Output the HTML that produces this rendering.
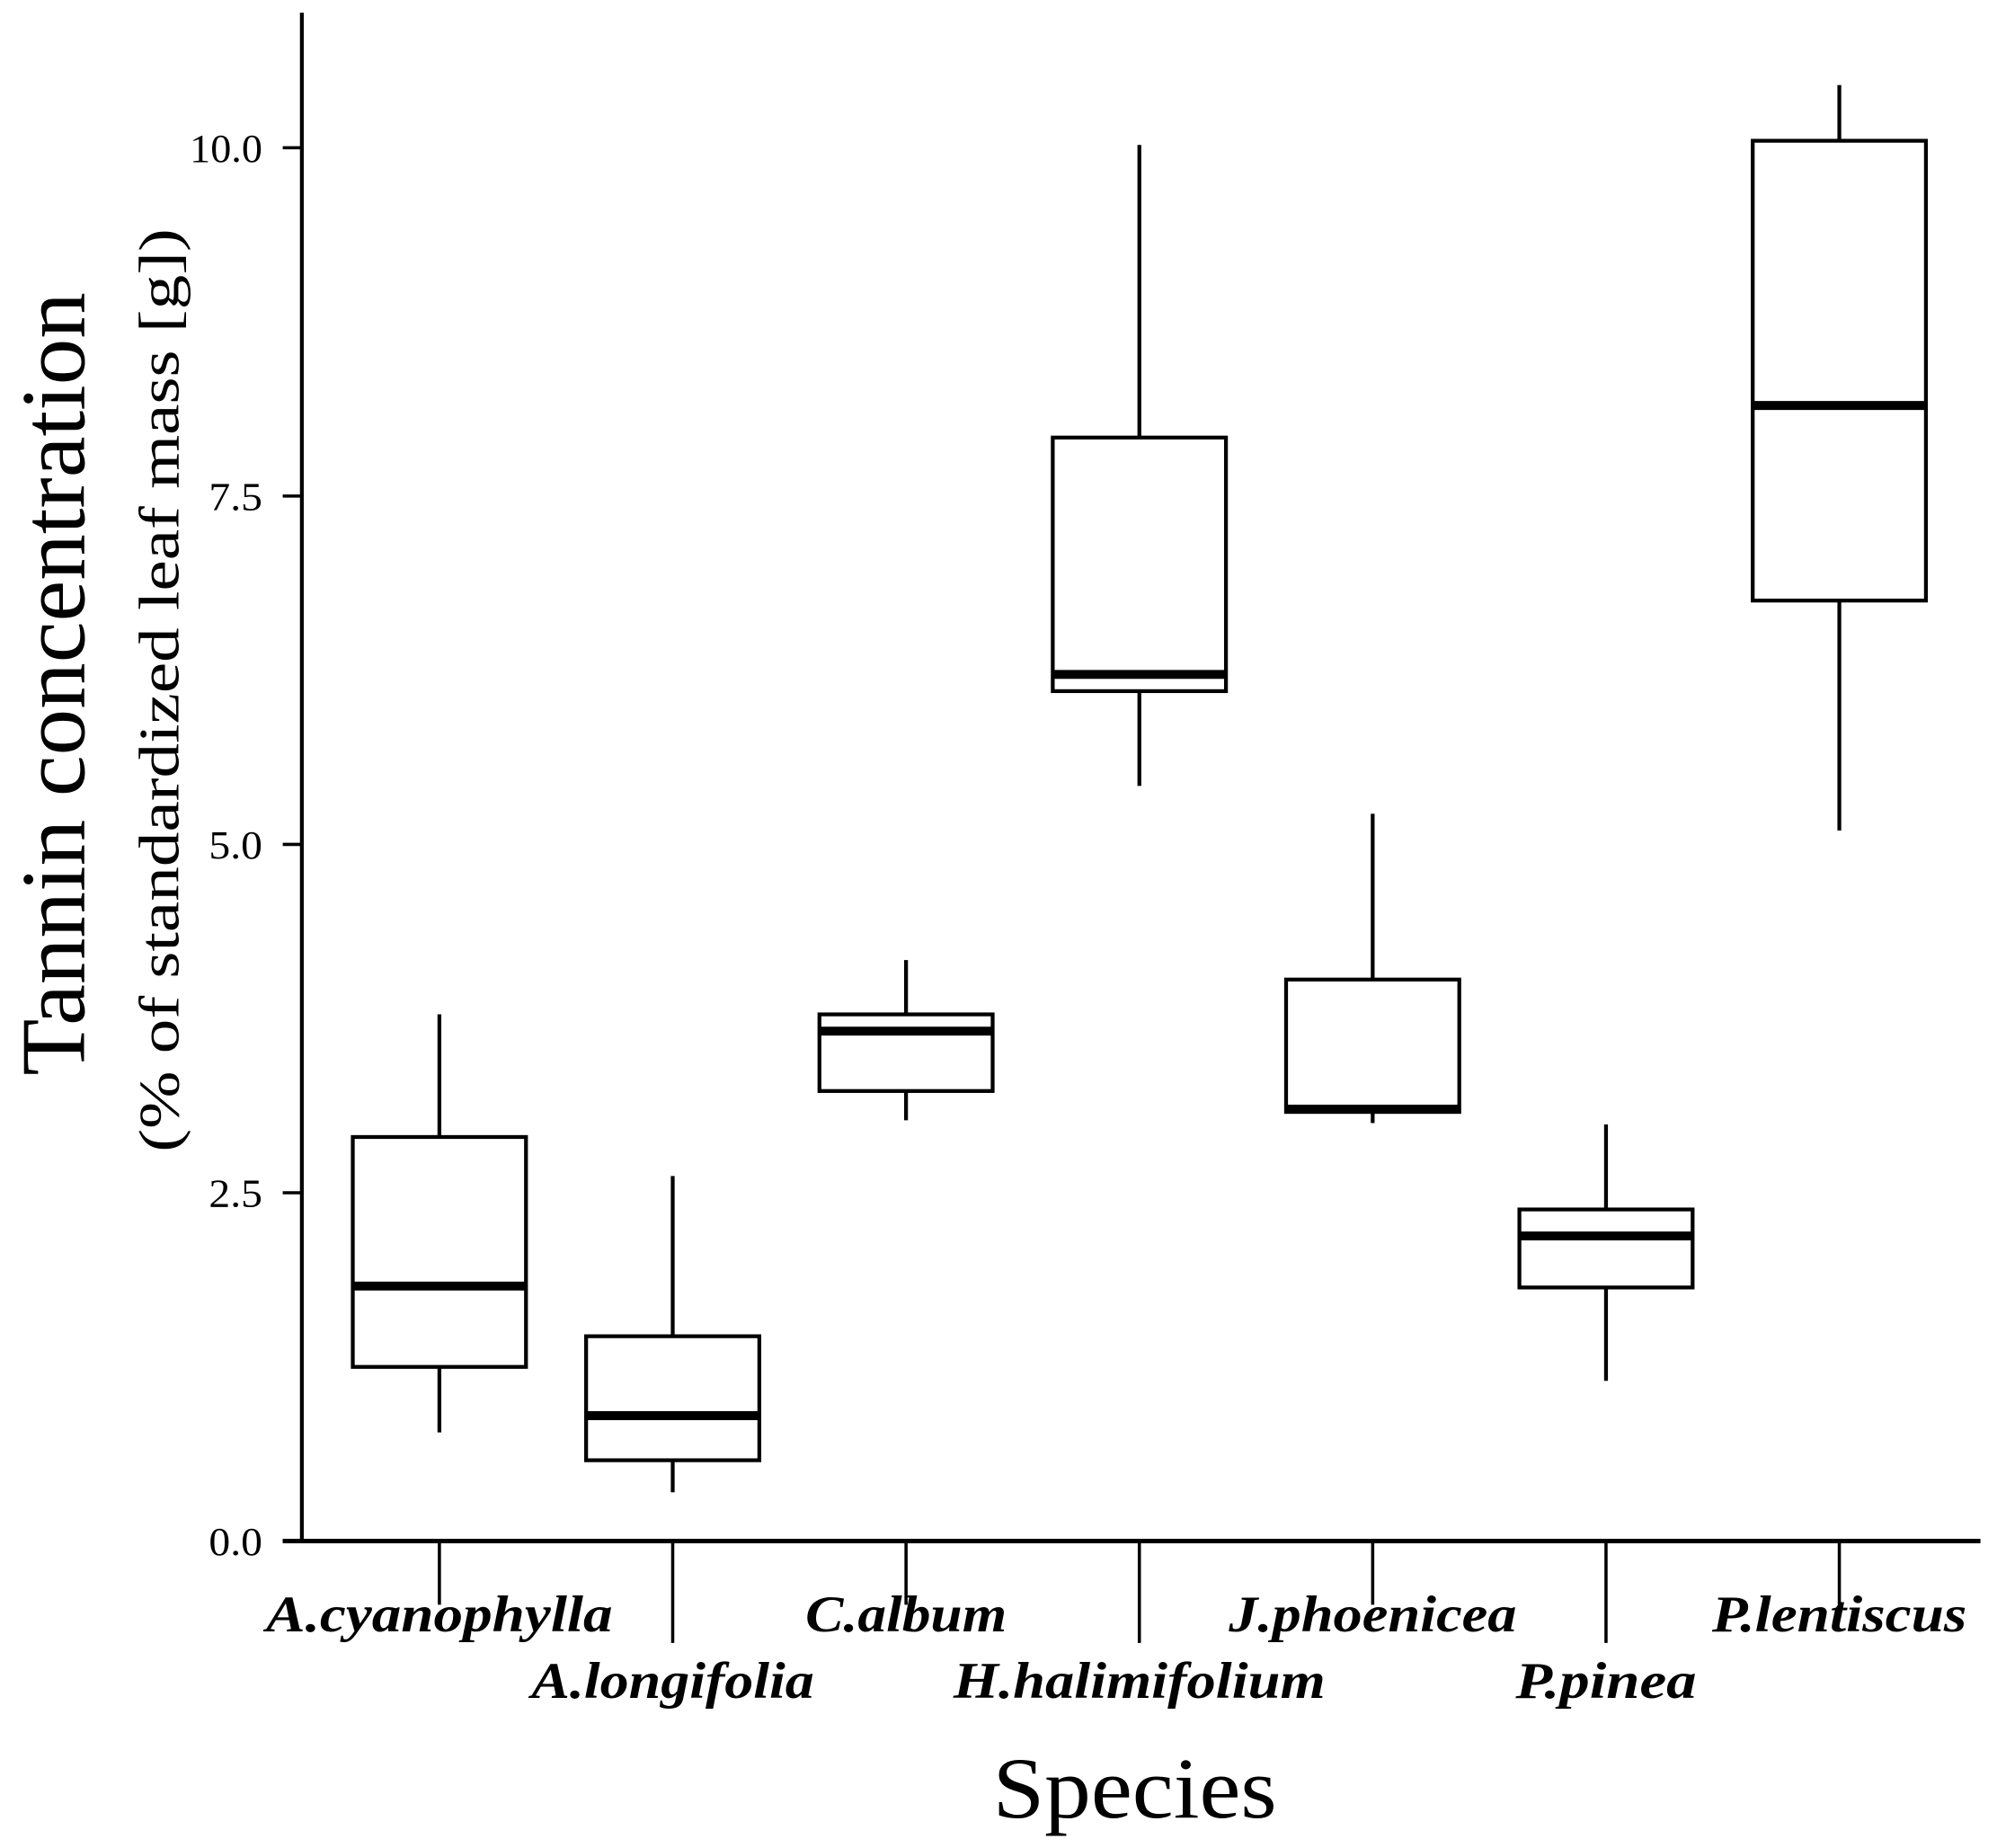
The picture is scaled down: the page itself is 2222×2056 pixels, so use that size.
<!DOCTYPE html>
<html><head><meta charset="utf-8"><style>
html,body{margin:0;padding:0;background:#fff;}
svg{display:block;}
text{font-family:"Liberation Serif",serif;fill:#000;}
</style></head><body>
<svg id="chart" width="2222" height="2056" viewBox="0 0 1568 1451" preserveAspectRatio="none" xmlns="http://www.w3.org/2000/svg">
<g id="marks"></g>
</svg>
<script>
const categories=["A.cyanophylla","A.longifolia","C.album","H.halimifolium","J.phoenicea","P.pinea","P.lentiscus"];
const whiskerLow=[0.78,0.35,3.02,5.42,3.0,1.15,5.1];
const q1=[1.25,0.58,3.23,6.1,3.08,1.82,6.75];
const medians=[1.83,0.9,3.66,6.22,3.1,2.19,8.15];
const q3=[2.9,1.47,3.78,7.92,4.03,2.38,10.05];
const whiskerHigh=[3.78,2.62,4.17,10.02,5.22,2.99,10.45];
const yTicks=[0,2.5,5,7.5,10];
const yTickLabels=["0.0","2.5","5.0","7.5","10.0"];
const labelLengths=[272,222,158,292,226,142,200];

const NS="http://www.w3.org/2000/svg";
const g=document.getElementById('marks');
const X0=237,X1=1555,Y0=1210,PPU=109.4;
const y=v=>Y0-v*PPU;
const x=i=>345+i*183.2;
function mk(tag,attrs,parent){const e=document.createElementNS(NS,tag);for(const k in attrs)e.setAttribute(k,attrs[k]);(parent||g).appendChild(e);return e;}

const yAxis=mk('line',{x1:X0,y1:10,x2:X0,y2:Y0+1.5,stroke:'#000','stroke-width':3});


const xAxis=mk('line',{x1:X0-15,y1:Y0,x2:X1,y2:Y0,stroke:'#000','stroke-width':3.5});



yTicks.forEach((v,i)=>{
  const t=mk('line',{x1:X0-15,y1:y(v),x2:X0,y2:y(v),stroke:'#000','stroke-width':2.5});
  
  
  const lab=yTickLabels[i];
  const l=mk('text',{x:X0-31,y:y(v)+11,'text-anchor':'end','font-size':31,textLength:lab.length===4?57:42,lengthAdjust:'spacingAndGlyphs'});
  l.textContent=lab;
  
  
});

categories.forEach((c,i)=>{
  const cx=x(i),hw=68;
  const grp=mk('g',{});
  
  
  mk('line',{x1:cx,y1:y(whiskerHigh[i]),x2:cx,y2:y(q3[i]),stroke:'#000','stroke-width':3},grp);
  mk('line',{x1:cx,y1:y(q1[i]),x2:cx,y2:y(whiskerLow[i]),stroke:'#000','stroke-width':3},grp);
  mk('rect',{x:cx-hw,y:y(q3[i]),width:2*hw,height:y(q1[i])-y(q3[i]),fill:'#fff',stroke:'#000','stroke-width':3},grp);
  mk('line',{x1:cx-hw,y1:y(medians[i]),x2:cx+hw,y2:y(medians[i]),stroke:'#000','stroke-width':7},grp);
  const long=i%2===1;
  const t=mk('line',{x1:cx,y1:Y0,x2:cx,y2:long?1290:1260,stroke:'#000','stroke-width':2.5});
  
  
  const l=mk('text',{x:cx,y:long?1333:1281,'text-anchor':'middle','font-size':40,'font-weight':'bold','font-style':'italic',textLength:labelLengths[i],lengthAdjust:'spacingAndGlyphs'});
  l.textContent=c;
  
  
});

const t1=mk('text',{x:0,y:0,'text-anchor':'middle','font-size':72,textLength:615,lengthAdjust:'spacingAndGlyphs',transform:'translate(66,537) rotate(-90)'});
t1.textContent='Tannin concentration';


const t2=mk('text',{x:0,y:0,'text-anchor':'middle','font-size':45,textLength:725,lengthAdjust:'spacingAndGlyphs',transform:'translate(140,542) rotate(-90)'});
t2.textContent='(% of standardized leaf mass [g])';


const t3=mk('text',{x:891,y:1427,'text-anchor':'middle','font-size':68,textLength:223,lengthAdjust:'spacingAndGlyphs'});
t3.textContent='Species';


</script>
</body></html>
